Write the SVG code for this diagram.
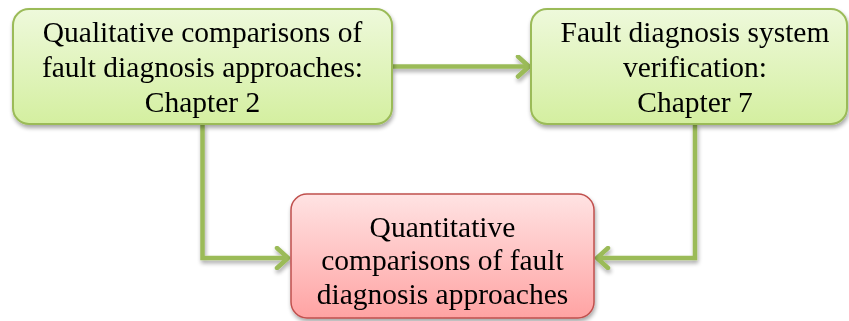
<svg xmlns="http://www.w3.org/2000/svg" width="849" height="321" viewBox="0 0 849 321">
  <defs>
    <linearGradient id="gGreen" x1="0" y1="0" x2="0" y2="1">
      <stop offset="0" stop-color="#EEF9DB"/>
      <stop offset="1" stop-color="#D4EFA0"/>
    </linearGradient>
    <linearGradient id="gRed" x1="0" y1="0" x2="0" y2="1">
      <stop offset="0" stop-color="#FFE3E3"/>
      <stop offset="1" stop-color="#FFA3A3"/>
    </linearGradient>
    <filter id="shadow" x="-10%" y="-10%" width="120%" height="130%">
      <feGaussianBlur in="SourceAlpha" stdDeviation="2"/>
      <feOffset dx="1" dy="3" result="b"/>
      <feComponentTransfer><feFuncA type="linear" slope="0.35"/></feComponentTransfer>
      <feMerge><feMergeNode/><feMergeNode in="SourceGraphic"/></feMerge>
    </filter>
    <marker id="chev" markerUnits="userSpaceOnUse" markerWidth="20" markerHeight="24" refX="15" refY="12" orient="auto">
      <path d="M4,2 L15,12 L4,22" fill="none" stroke="#9BBB59" stroke-width="4.5" stroke-linecap="round" stroke-linejoin="round"/>
    </marker>
  </defs>
  <style>
    .green { fill: url(#gGreen); stroke: #9BBB59; stroke-width: 2; }
    .red { fill: url(#gRed); stroke: #C0504D; stroke-width: 1.5; }
    .label { font-family: "Liberation Serif", "Times New Roman", serif; font-size: 29.5px; fill: #000; text-anchor: middle; }
    .conn { fill: none; stroke: #9BBB59; stroke-width: 4.5; stroke-linejoin: miter; }
  </style>

  <g id="connectors" filter="url(#shadow)">
    <path class="conn" d="M392,66.5 H529" marker-end="url(#chev)"/>
    <path class="conn" d="M202.5,124 V258 H288" marker-end="url(#chev)"/>
    <path class="conn" d="M695,124 V258 H597" marker-end="url(#chev)"/>
  </g>

  <g id="qualitative" filter="url(#shadow)">
    <rect class="green" x="13" y="9" width="379" height="115" rx="16"/>
    <text class="label" x="202.5" y="42">Qualitative comparisons of</text>
    <text class="label" x="202.5" y="77">fault diagnosis approaches:</text>
    <text class="label" x="202.5" y="112">Chapter 2</text>
  </g>

  <g id="verification" filter="url(#shadow)">
    <rect class="green" x="531" y="9" width="316" height="115" rx="16"/>
    <text class="label" x="695" y="42">Fault diagnosis system</text>
    <text class="label" x="695" y="77">verification:</text>
    <text class="label" x="695" y="112">Chapter 7</text>
  </g>

  <g id="quantitative" filter="url(#shadow)">
    <rect class="red" x="291" y="194" width="303" height="124" rx="16"/>
    <text class="label" x="442.5" y="237">Quantitative</text>
    <text class="label" x="442.5" y="270">comparisons of fault</text>
    <text class="label" x="442.5" y="304">diagnosis approaches</text>
  </g>
</svg>
